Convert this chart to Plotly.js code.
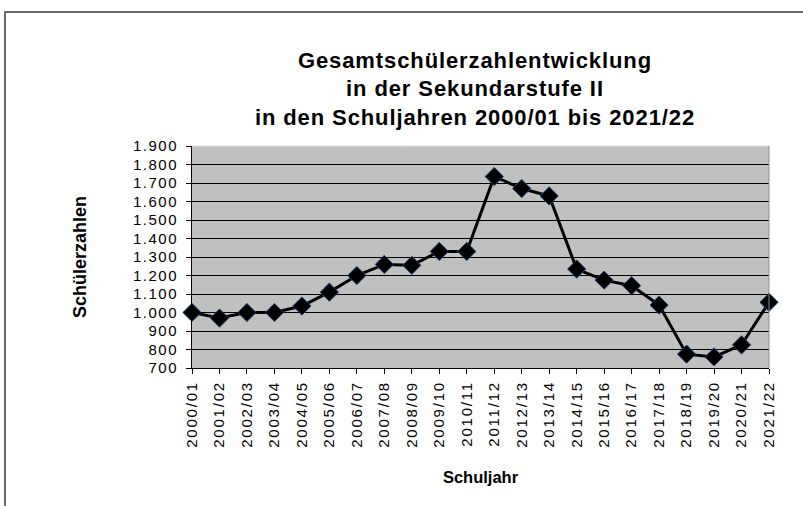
<!DOCTYPE html>
<html>
<head>
<meta charset="utf-8">
<script src="https://cdn.plot.ly/plotly-3.0.1.min.js"></script>
<style>
  html, body { margin: 0; padding: 0; background: #fff; overflow: hidden; }
  #chart { position: absolute; left: 0; top: 0; width: 803px; height: 506px; }
  #frame { position: absolute; left: 4px; top: 11px; width: 900px; height: 600px;
           border: 2px solid #6a6a6a; pointer-events: none; }
  #chart .xtick text { letter-spacing: 1.8px; }
  #chart .ytick text { letter-spacing: 1.5px; }
  #chart text.gtitle { letter-spacing: 0.9px; }
</style>
</head>
<body>
<div id="chart"></div>
<div id="frame"></div>
<script>
const schuljahre = ["2000/01","2001/02","2002/03","2003/04","2004/05","2005/06","2006/07",
  "2007/08","2008/09","2009/10","2010/11","2011/12","2012/13","2013/14","2014/15",
  "2015/16","2016/17","2017/18","2018/19","2019/20","2020/21","2021/22"];
const schuelerzahlen = [1000, 970, 1000, 1000, 1035, 1110, 1200,
  1260, 1255, 1330, 1330, 1735, 1670, 1630, 1235,
  1175, 1145, 1040, 775, 760, 825, 1055];
const yTicks = [700, 800, 900, 1000, 1100, 1200, 1300, 1400, 1500, 1600, 1700, 1800, 1900];

const font = "Arial, 'Liberation Sans', sans-serif";

const trace = {
  x: schuljahre,
  y: schuelerzahlen,
  type: "scatter",
  mode: "lines+markers",
  line: { color: "#000", width: 3 },
  marker: { symbol: "diamond", size: 14, color: "#000", line: { color: "#1f3d6e", width: 1 } },
  cliponaxis: false,
  hoverinfo: "x+y"
};

const layout = {
  width: 803, height: 506,
  margin: { l: 192, r: 34, t: 146, b: 138 },
  paper_bgcolor: "#fff",
  plot_bgcolor: "#c0c0c0",
  separators: ",.",
  showlegend: false,
  font: { family: font, color: "#000", size: 14 },
  title: {
    text: "<b>Gesamtschülerzahlentwicklung<br>in der Sekundarstufe II<br>in den Schuljahren 2000/01 bis 2021/22</b>",
    font: { family: font, size: 22, color: "#000" },
    x: 0.5915, xanchor: "center",
    y: 0.866, yanchor: "middle"
  },
  xaxis: {
    type: "category",
    range: [0, schuljahre.length - 1],
    tickangle: -90,
    ticks: "outside", ticklen: 5, tickcolor: "#000", tickwidth: 1,
    showline: true, linecolor: "#000", linewidth: 1, mirror: false,
    showgrid: false, zeroline: false,
    tickfont: { family: font, size: 15, color: "#000" },
    ticklabelstandoff: 1,
    automargin: false,
    title: { text: "<b>Schuljahr</b>", font: { family: font, size: 16.5, color: "#000" }, standoff: 37 }
  },
  yaxis: {
    range: [700, 1900],
    tickvals: yTicks,
    tickformat: ",d",
    ticks: "outside", ticklen: 5, tickcolor: "#000", tickwidth: 1,
    showline: true, linecolor: "#000", linewidth: 1,
    showgrid: true, gridcolor: "#000", gridwidth: 1,
    zeroline: false,
    tickfont: { family: font, size: 15, color: "#000" },
    ticklabelstandoff: 5,
    automargin: false,
    title: { text: "<b>Schülerzahlen</b>", font: { family: font, size: 18, color: "#000" }, standoff: 49 }
  },
  shapes: [
    { type: "line", xref: "paper", yref: "paper", x0: 0, x1: 1, y0: 1, y1: 1,
      line: { color: "#e0e0e0", width: 1 } },
    { type: "line", xref: "paper", yref: "paper", x0: 1, x1: 1, y0: 0, y1: 1,
      line: { color: "#909090", width: 1 } }
  ]
};

Plotly.newPlot("chart", [trace], layout, { displayModeBar: false, staticPlot: true });
</script>
</body>
</html>
